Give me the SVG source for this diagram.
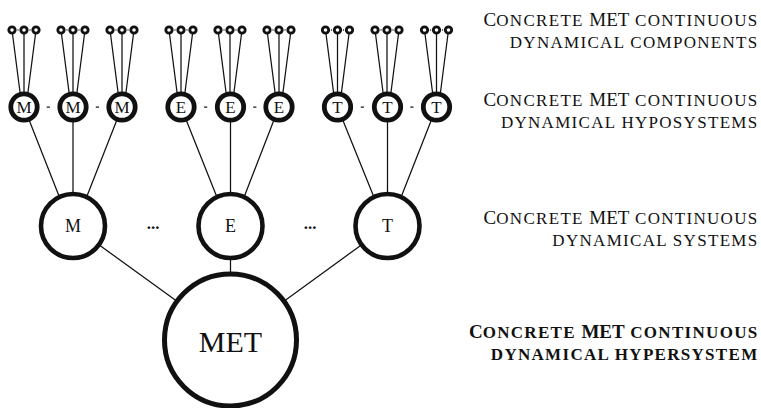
<svg xmlns="http://www.w3.org/2000/svg" width="761" height="408" viewBox="0 0 761 408">
<style>
.c{fill:#fff;stroke:#111;}
.small{stroke-width:2.8;}
.hypo{stroke-width:4.8;}
.sys{stroke-width:4.6;}
.hyper{stroke-width:5;}
.ln{stroke:#111;stroke-width:1.25;fill:none;}
.t{font-family:"Liberation Serif","Times New Roman",serif;fill:#111;text-anchor:middle;}
.lbl{font-family:"Liberation Serif","Times New Roman",serif;fill:#111;text-anchor:end;}
.B{font-size:19px;}
.s{font-size:17px;letter-spacing:1.3px;}
.bold{font-weight:bold;}
.dot{fill:#111;}
</style>
<rect width="761" height="408" fill="#fff"/>
<g id="connectors">
  <path class="ln" d="M12,30L20.5,96M24,30L24,96M36,30L27.5,96
  M61,30L69.5,96M73,30L73,96M85,30L76.5,96
  M110,30L118.5,96M122,30L122,96M134,30L125.5,96
  M169,30L177.5,96M181,30L181,96M193,30L184.5,96
  M218,30L226.5,96M230,30L230,96M242,30L233.5,96
  M267,30L275.5,96M279,30L279,96M291,30L282.5,96
  M325.5,30L334,96M337.5,30L337.5,96M349.5,30L341,96
  M375,30L383.5,96M387,30L387,96M399,30L390.5,96
  M424.5,30L433,96M436.5,30L436.5,96M448.5,30L440,96"/>
  <path class="ln" d="M24,107L59,196M73,107L73,196M122,107L87,196
  M181,107L216.5,196M230.5,107L230.5,196M279,107L244.5,196
  M337.5,107L373.5,196M387.5,107L387.5,196M436.5,107L401.5,196"/>
  <path class="ln" d="M73,226L230.5,340M230.5,226L230.5,340M387.5,226L230.5,340"/>
</g>
<g id="components">
  <circle class="c small" cx="12" cy="30" r="3.2"/><circle class="c small" cx="24" cy="30" r="3.2"/><circle class="c small" cx="36" cy="30" r="3.2"/>
  <circle class="c small" cx="61" cy="30" r="3.2"/><circle class="c small" cx="73" cy="30" r="3.2"/><circle class="c small" cx="85" cy="30" r="3.2"/>
  <circle class="c small" cx="110" cy="30" r="3.2"/><circle class="c small" cx="122" cy="30" r="3.2"/><circle class="c small" cx="134" cy="30" r="3.2"/>
  <circle class="c small" cx="169" cy="30" r="3.2"/><circle class="c small" cx="181" cy="30" r="3.2"/><circle class="c small" cx="193" cy="30" r="3.2"/>
  <circle class="c small" cx="218" cy="30" r="3.2"/><circle class="c small" cx="230" cy="30" r="3.2"/><circle class="c small" cx="242" cy="30" r="3.2"/>
  <circle class="c small" cx="267" cy="30" r="3.2"/><circle class="c small" cx="279" cy="30" r="3.2"/><circle class="c small" cx="291" cy="30" r="3.2"/>
  <circle class="c small" cx="325.5" cy="30" r="3.2"/><circle class="c small" cx="337.5" cy="30" r="3.2"/><circle class="c small" cx="349.5" cy="30" r="3.2"/>
  <circle class="c small" cx="375" cy="30" r="3.2"/><circle class="c small" cx="387" cy="30" r="3.2"/><circle class="c small" cx="399" cy="30" r="3.2"/>
  <circle class="c small" cx="424.5" cy="30" r="3.2"/><circle class="c small" cx="436.5" cy="30" r="3.2"/><circle class="c small" cx="448.5" cy="30" r="3.2"/>
  <g class="dot">
    <circle cx="18" cy="30" r="0.7"/><circle cx="30" cy="30" r="0.7"/><circle cx="67" cy="30" r="0.7"/><circle cx="79" cy="30" r="0.7"/><circle cx="116" cy="30" r="0.7"/><circle cx="128" cy="30" r="0.7"/>
    <circle cx="175" cy="30" r="0.7"/><circle cx="187" cy="30" r="0.7"/><circle cx="224" cy="30" r="0.7"/><circle cx="236" cy="30" r="0.7"/><circle cx="273" cy="30" r="0.7"/><circle cx="285" cy="30" r="0.7"/>
    <circle cx="331.5" cy="30" r="0.7"/><circle cx="343.5" cy="30" r="0.7"/><circle cx="381" cy="30" r="0.7"/><circle cx="393" cy="30" r="0.7"/><circle cx="430.5" cy="30" r="0.7"/><circle cx="442.5" cy="30" r="0.7"/>
  </g>
</g>
<g id="hyposystems">
  <g id="hypo-M1"><circle class="c hypo" cx="24" cy="107" r="13.2"/><text class="t" x="24" y="113" font-size="17">M</text></g>
  <g id="hypo-M2"><circle class="c hypo" cx="73" cy="107" r="13.2"/><text class="t" x="73" y="113" font-size="17">M</text></g>
  <g id="hypo-M3"><circle class="c hypo" cx="122" cy="107" r="13.2"/><text class="t" x="122" y="113" font-size="17">M</text></g>
  <g id="hypo-E1"><circle class="c hypo" cx="181" cy="107" r="13.2"/><text class="t" x="181" y="113" font-size="17">E</text></g>
  <g id="hypo-E2"><circle class="c hypo" cx="230.5" cy="107" r="13.2"/><text class="t" x="230.5" y="113" font-size="17">E</text></g>
  <g id="hypo-E3"><circle class="c hypo" cx="279" cy="107" r="13.2"/><text class="t" x="279" y="113" font-size="17">E</text></g>
  <g id="hypo-T1"><circle class="c hypo" cx="337.5" cy="107" r="13.2"/><text class="t" x="337.5" y="113" font-size="17">T</text></g>
  <g id="hypo-T2"><circle class="c hypo" cx="387.5" cy="107" r="13.2"/><text class="t" x="387.5" y="113" font-size="17">T</text></g>
  <g id="hypo-T3"><circle class="c hypo" cx="436.5" cy="107" r="13.2"/><text class="t" x="436.5" y="113" font-size="17">T</text></g>
  <g class="dot">
    <rect x="46.7" y="106.5" width="3.2" height="1.2"/><rect x="95.8" y="106.5" width="3.2" height="1.2"/>
    <rect x="204" y="106.5" width="3.2" height="1.2"/><rect x="253.2" y="106.5" width="3.2" height="1.2"/>
    <rect x="360.8" y="106.5" width="3.2" height="1.2"/><rect x="410.3" y="106.5" width="3.2" height="1.2"/>
  </g>
</g>
<g id="systems">
  <g id="sys-M"><circle class="c sys" cx="73" cy="226" r="32"/><text class="t" x="73" y="232" font-size="18">M</text></g>
  <g id="sys-E"><circle class="c sys" cx="230.5" cy="226" r="32"/><text class="t" x="230.5" y="232" font-size="18">E</text></g>
  <g id="sys-T"><circle class="c sys" cx="387.5" cy="226" r="32"/><text class="t" x="387.5" y="232" font-size="18">T</text></g>
  <text class="t bold" x="153" y="229" font-size="17">...</text>
  <text class="t bold" x="310" y="229" font-size="17">...</text>
</g>
<g id="hypersystem">
  <circle class="c hyper" cx="230.5" cy="340" r="66"/>
  <text class="t" x="230.5" y="352" font-size="30">MET</text>
</g>
<g id="labels">
  <text class="lbl" x="758.5" y="26"><tspan class="B">C</tspan><tspan class="s">ONCRETE </tspan><tspan class="B">MET</tspan><tspan class="s"> CONTINUOUS</tspan></text>
  <text class="lbl" x="758.5" y="48"><tspan class="s">DYNAMICAL COMPONENTS</tspan></text>
  <text class="lbl" x="758.5" y="106"><tspan class="B">C</tspan><tspan class="s">ONCRETE </tspan><tspan class="B">MET</tspan><tspan class="s"> CONTINUOUS</tspan></text>
  <text class="lbl" x="758.5" y="128"><tspan class="s">DYNAMICAL HYPOSYSTEMS</tspan></text>
  <text class="lbl" x="758.5" y="224"><tspan class="B">C</tspan><tspan class="s">ONCRETE </tspan><tspan class="B">MET</tspan><tspan class="s"> CONTINUOUS</tspan></text>
  <text class="lbl" x="758.5" y="246"><tspan class="s">DYNAMICAL SYSTEMS</tspan></text>
  <text class="lbl bold" x="758.5" y="338"><tspan class="B">C</tspan><tspan class="s">ONCRETE </tspan><tspan class="B">MET</tspan><tspan class="s"> CONTINUOUS</tspan></text>
  <text class="lbl bold" x="758.5" y="360"><tspan class="s">DYNAMICAL HYPERSYSTEM</tspan></text>
</g>
</svg>
